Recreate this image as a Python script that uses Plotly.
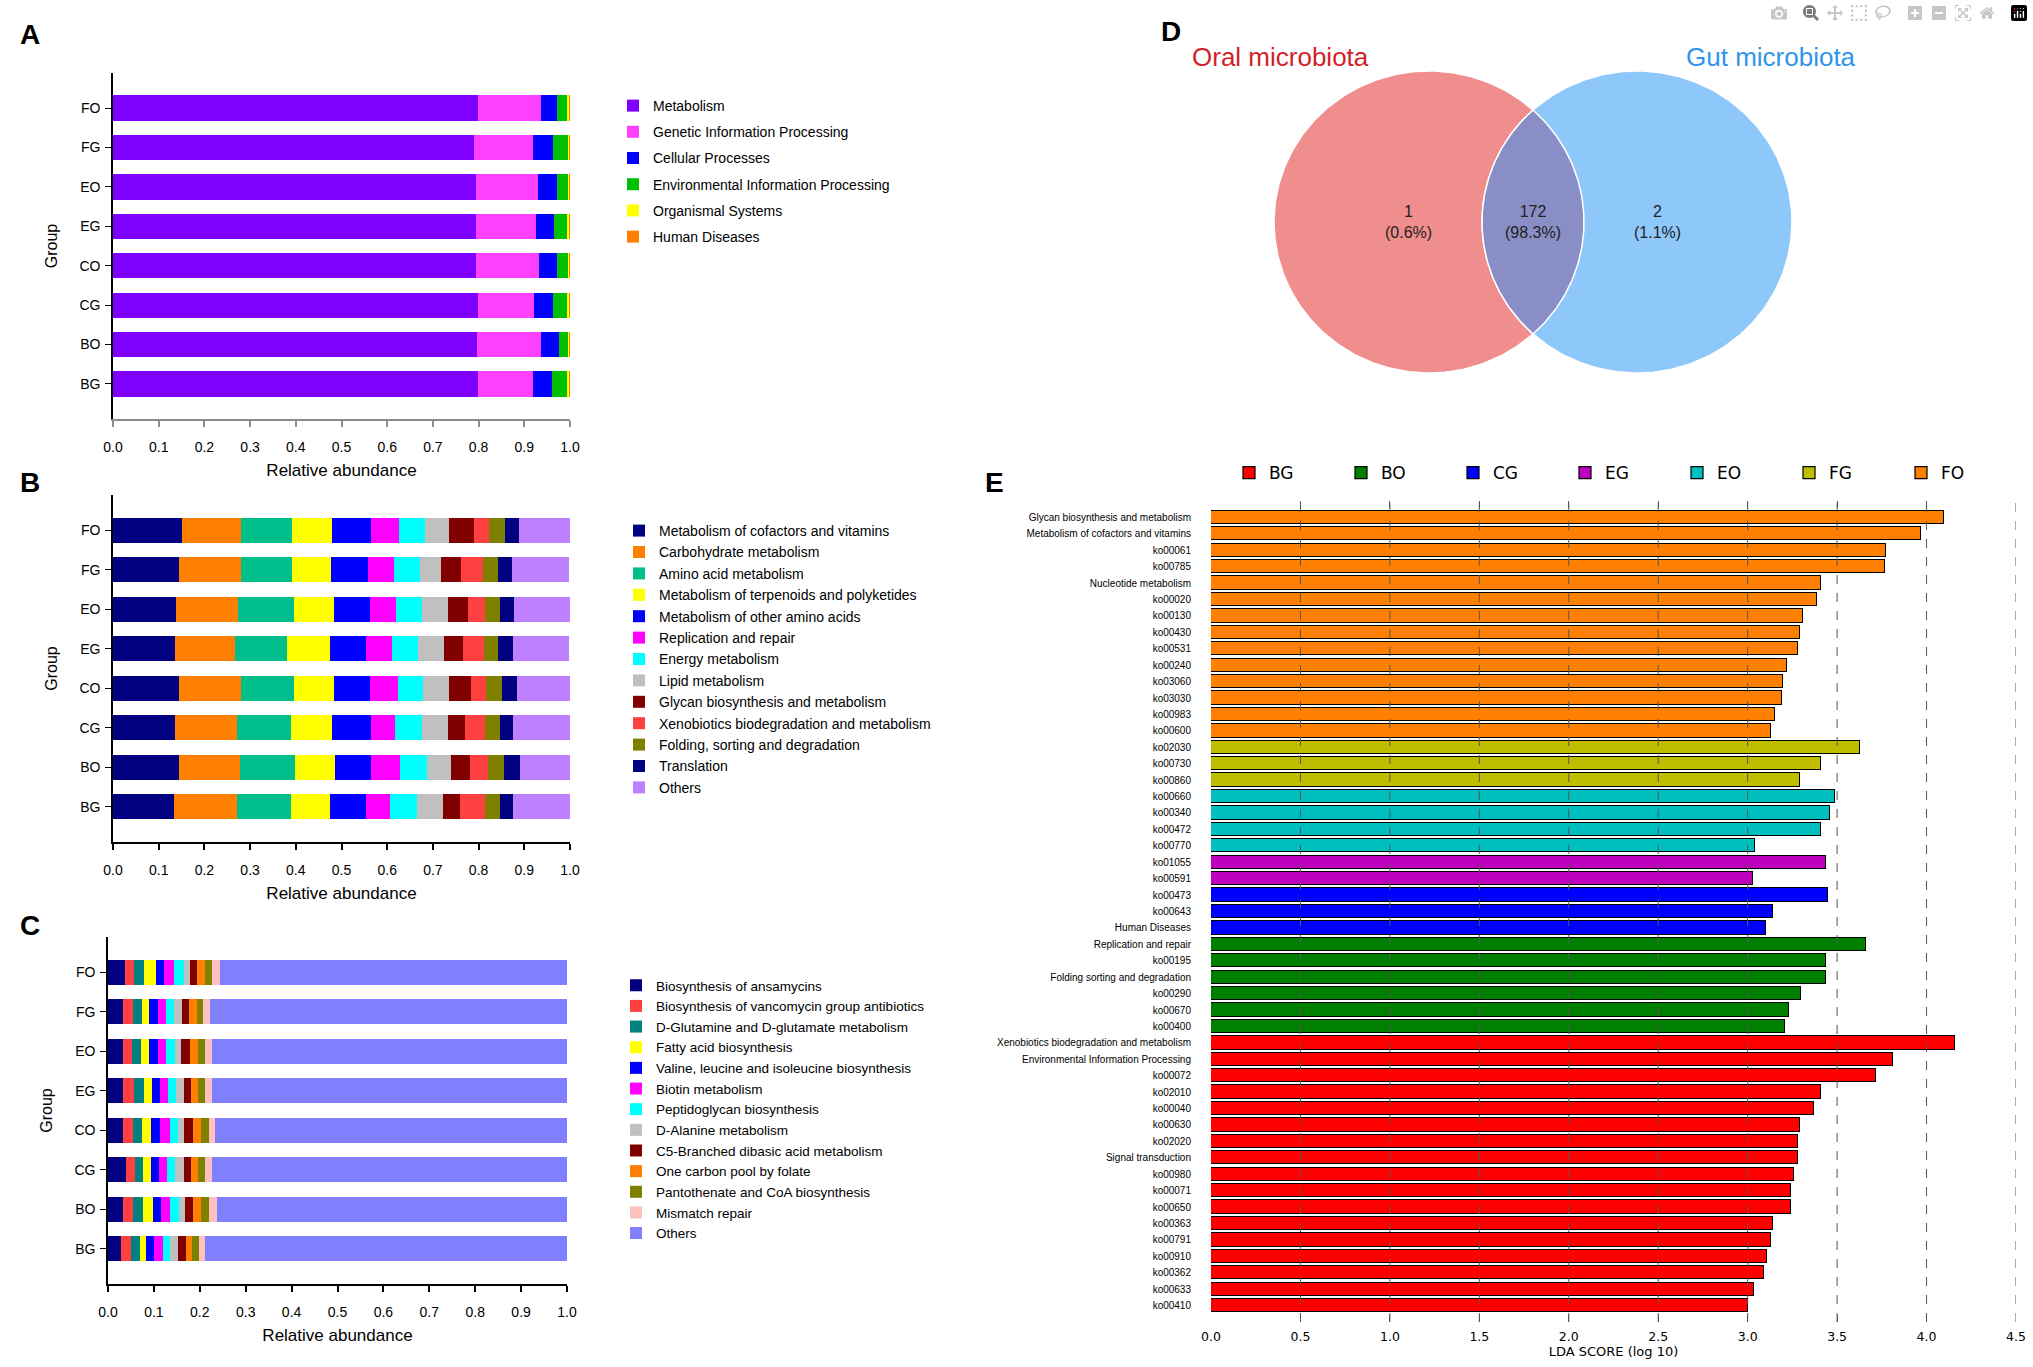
import numpy as np
import plotly.graph_objects as go

W, H = 2033, 1367
FONT = "Liberation Sans, Arial, sans-serif"
EFONT = "DejaVu Sans, sans-serif"

groups = ["BG", "BO", "CG", "CO", "EG", "EO", "FG", "FO"]

# ---------------- Panel A : KEGG level 1 ----------------
a_names = ["Metabolism", "Genetic Information Processing", "Cellular Processes",
           "Environmental Information Processing", "Organismal Systems", "Human Diseases"]
a_colors = ["#7F00FF", "#FF40FF", "#0000FF", "#00C000", "#FFFF00", "#FF8000"]
# values per pathway, in group order BG, BO, CG, CO, EG, EO, FG, FO
a_metabolism = [0.799, 0.797, 0.798, 0.795, 0.795, 0.795, 0.791, 0.799]
a_genetic    = [0.119, 0.140, 0.124, 0.138, 0.131, 0.134, 0.128, 0.137]
a_cellular   = [0.043, 0.038, 0.040, 0.039, 0.039, 0.043, 0.043, 0.036]
a_environ    = [0.033, 0.022, 0.032, 0.025, 0.029, 0.024, 0.034, 0.021]
a_organismal = [0.004, 0.002, 0.004, 0.002, 0.004, 0.003, 0.003, 0.005]
a_human      = [0.002, 0.001, 0.002, 0.001, 0.002, 0.001, 0.001, 0.002]
a_values = [a_metabolism, a_genetic, a_cellular, a_environ, a_organismal, a_human]

# ---------------- Panel B : KEGG level 2 ----------------
b_names = ["Metabolism of cofactors and vitamins", "Carbohydrate metabolism", "Amino acid metabolism",
           "Metabolism of terpenoids and polyketides", "Metabolism of other amino acids",
           "Replication and repair", "Energy metabolism", "Lipid metabolism",
           "Glycan biosynthesis and metabolism", "Xenobiotics biodegradation and metabolism",
           "Folding, sorting and degradation", "Translation", "Others"]
b_colors = ["#000080", "#FF8000", "#00BF8C", "#FFFF00", "#0000FF", "#FF00FF", "#00FFFF",
            "#C0C0C0", "#800000", "#FF4040", "#808000", "#000080", "#BF80FF"]
# values per group, in pathway order
b_BG = [0.134, 0.138, 0.118, 0.084, 0.079, 0.053, 0.060, 0.057, 0.036, 0.056, 0.031, 0.029, 0.125]
b_BO = [0.145, 0.132, 0.121, 0.088, 0.079, 0.063, 0.058, 0.054, 0.042, 0.038, 0.035, 0.035, 0.110]
b_CG = [0.135, 0.136, 0.118, 0.091, 0.084, 0.054, 0.058, 0.057, 0.038, 0.043, 0.032, 0.029, 0.124]
b_CO = [0.145, 0.134, 0.117, 0.088, 0.079, 0.060, 0.056, 0.056, 0.049, 0.032, 0.036, 0.032, 0.117]
b_EG = [0.136, 0.131, 0.114, 0.093, 0.079, 0.058, 0.057, 0.057, 0.040, 0.047, 0.031, 0.033, 0.121]
b_EO = [0.138, 0.136, 0.123, 0.086, 0.079, 0.057, 0.057, 0.058, 0.042, 0.038, 0.033, 0.031, 0.121]
b_FG = [0.145, 0.136, 0.111, 0.086, 0.079, 0.057, 0.057, 0.047, 0.043, 0.049, 0.032, 0.031, 0.125]
b_FO = [0.152, 0.127, 0.113, 0.088, 0.085, 0.061, 0.057, 0.052, 0.056, 0.031, 0.035, 0.032, 0.113]
b_groups = [b_BG, b_BO, b_CG, b_CO, b_EG, b_EO, b_FG, b_FO]

# ---------------- Panel C : KEGG level 3 ----------------
c_names = ["Biosynthesis of ansamycins", "Biosynthesis of vancomycin group antibiotics",
           "D-Glutamine and D-glutamate metabolism", "Fatty acid biosynthesis",
           "Valine, leucine and isoleucine biosynthesis", "Biotin metabolism",
           "Peptidoglycan biosynthesis", "D-Alanine metabolism", "C5-Branched dibasic acid metabolism",
           "One carbon pool by folate", "Pantothenate and CoA biosynthesis", "Mismatch repair", "Others"]
c_colors = ["#000080", "#FF4040", "#008080", "#FFFF00", "#0000FF", "#FF00FF", "#00FFFF",
            "#C0C0C0", "#800000", "#FF8000", "#808000", "#FFC0C0", "#8080FF"]
c_BG = [0.029, 0.022, 0.018, 0.014, 0.018, 0.018, 0.017, 0.017, 0.017, 0.014, 0.014, 0.014, 0.789]
c_BO = [0.032, 0.022, 0.022, 0.021, 0.019, 0.019, 0.019, 0.013, 0.019, 0.017, 0.017, 0.017, 0.762]
c_CG = [0.040, 0.019, 0.018, 0.017, 0.018, 0.017, 0.018, 0.018, 0.015, 0.017, 0.015, 0.014, 0.773]
c_CO = [0.032, 0.022, 0.021, 0.019, 0.019, 0.021, 0.019, 0.013, 0.019, 0.017, 0.017, 0.014, 0.766]
c_EG = [0.033, 0.024, 0.021, 0.017, 0.018, 0.017, 0.019, 0.017, 0.014, 0.017, 0.015, 0.014, 0.775]
c_EO = [0.032, 0.021, 0.019, 0.018, 0.019, 0.018, 0.018, 0.014, 0.019, 0.017, 0.017, 0.014, 0.773]
c_FG = [0.032, 0.022, 0.021, 0.015, 0.018, 0.018, 0.018, 0.018, 0.014, 0.017, 0.015, 0.015, 0.776]
c_FO = [0.036, 0.021, 0.022, 0.025, 0.019, 0.021, 0.021, 0.014, 0.015, 0.018, 0.015, 0.018, 0.754]
c_groups = [c_BG, c_BO, c_CG, c_CO, c_EG, c_EO, c_FG, c_FO]

x_ticks = [0.0, 0.1, 0.2, 0.3, 0.4, 0.5, 0.6, 0.7, 0.8, 0.9, 1.0]

# ---------------- Panel D : Venn ----------------
venn_sets = ["Oral microbiota", "Gut microbiota"]
venn_counts = [1, 172, 2]
venn_pct = ["0.6%", "98.3%", "1.1%"]

# ---------------- Panel E : LEfSe LDA ----------------
e_classes = ["BG", "BO", "CG", "EG", "EO", "FG", "FO"]
e_colors = ["#FF0000", "#008000", "#0000FF", "#BF00BF", "#00BFBF", "#BFBF00", "#FF8000"]
e_FO_names = ["Glycan biosynthesis and metabolism", "Metabolism of cofactors and vitamins", "ko00061",
              "ko00785", "Nucleotide metabolism", "ko00020", "ko00130", "ko00430", "ko00531",
              "ko00240", "ko03060", "ko03030", "ko00983", "ko00600"]
e_FO_lda = [4.10, 3.97, 3.775, 3.77, 3.41, 3.39, 3.31, 3.29, 3.28, 3.22, 3.20, 3.19, 3.15, 3.13]
e_FG_names = ["ko02030", "ko00730", "ko00860"]
e_FG_lda = [3.63, 3.41, 3.29]
e_EO_names = ["ko00660", "ko00340", "ko00472", "ko00770"]
e_EO_lda = [3.49, 3.46, 3.41, 3.04]
e_EG_names = ["ko01055", "ko00591"]
e_EG_lda = [3.44, 3.03]
e_CG_names = ["ko00473", "ko00643", "Human Diseases"]
e_CG_lda = [3.45, 3.14, 3.105]
e_BO_names = ["Replication and repair", "ko00195", "Folding sorting and degradation",
              "ko00290", "ko00670", "ko00400"]
e_BO_lda = [3.66, 3.44, 3.44, 3.30, 3.23, 3.21]
e_BG_names = ["Xenobiotics biodegradation and metabolism", "Environmental Information Processing",
              "ko00072", "ko02010", "ko00040", "ko00630", "ko02020", "Signal transduction",
              "ko00980", "ko00071", "ko00650", "ko00363", "ko00791", "ko00910", "ko00362",
              "ko00633", "ko00410"]
e_BG_lda = [4.16, 3.81, 3.72, 3.41, 3.37, 3.29, 3.28, 3.28, 3.26, 3.245, 3.245, 3.14, 3.13,
            3.11, 3.09, 3.035, 3.00]
e_ticks = [0.0, 0.5, 1.0, 1.5, 2.0, 2.5, 3.0, 3.5, 4.0, 4.5]

# ====================================================================
def pxx(x):
    return x / W


def pxy(y):
    return 1 - y / H


fig = go.Figure()

# Panel A bars
for name, col, vals in zip(a_names, a_colors, a_values):
    fig.add_trace(go.Bar(y=groups, x=vals, orientation="h", name=name, marker_color=col,
                         marker_line_width=0, width=0.64, xaxis="x", yaxis="y",
                         legend="legend", legendgroup="a" + name))

# Panel B bars
for i, (name, col) in enumerate(zip(b_names, b_colors)):
    fig.add_trace(go.Bar(y=groups, x=[g[i] for g in b_groups], orientation="h", name=name,
                         marker_color=col, marker_line_width=0, width=0.64, xaxis="x2", yaxis="y2",
                         legend="legend2", legendgroup="b" + name))

# Panel C bars
for i, (name, col) in enumerate(zip(c_names, c_colors)):
    fig.add_trace(go.Bar(y=groups, x=[g[i] for g in c_groups], orientation="h", name=name,
                         marker_color=col, marker_line_width=0, width=0.64, xaxis="x3", yaxis="y3",
                         legend="legend3", legendgroup="c" + name))

# Panel D Venn (pixel-like coordinate system on x4/y4)
cxL, cxR, cy, rx, ry = 1429.0, 1637.0, 222.0, 155.0, 151.0
t = np.linspace(0, 2 * np.pi, 361)
fig.add_trace(go.Scatter(x=cxL + rx * np.cos(t), y=cy + ry * np.sin(t), mode="lines", fill="toself",
                         fillcolor="#F08D8D", line=dict(color="white", width=1.5), xaxis="x4", yaxis="y4",
                         showlegend=False, hoverinfo="skip"))
fig.add_trace(go.Scatter(x=cxR + rx * np.cos(t), y=cy + ry * np.sin(t), mode="lines", fill="toself",
                         fillcolor="#8EC7FA", line=dict(color="white", width=1.5), xaxis="x4", yaxis="y4",
                         showlegend=False, hoverinfo="skip"))
xm = (cxL + cxR) / 2
t0 = np.arccos((xm - cxL) / rx)
tl = np.linspace(-t0, t0, 120)
tr = np.linspace(np.pi - t0, np.pi + t0, 120)
lens_x = np.concatenate([cxL + rx * np.cos(tl), cxR + rx * np.cos(tr)])
lens_y = np.concatenate([cy + ry * np.sin(tl), cy + ry * np.sin(tr)])
fig.add_trace(go.Scatter(x=lens_x, y=lens_y, mode="lines", fill="toself", fillcolor="#898EC6",
                         line=dict(color="white", width=1.5), xaxis="x4", yaxis="y4",
                         showlegend=False, hoverinfo="skip"))

# Panel E bars
e_all_names = []
for cls in ["FO", "FG", "EO", "EG", "CG", "BO", "BG"]:
    e_all_names += globals()["e_%s_names" % cls]
for cls, col in zip(e_classes, e_colors):
    fig.add_trace(go.Bar(y=globals()["e_%s_names" % cls], x=globals()["e_%s_lda" % cls],
                         orientation="h", name=cls, marker=dict(color=col, line=dict(color="black", width=1.2)),
                         width=0.81, xaxis="x5", yaxis="y5", legend="legend4"))

# ---------------- Axes ----------------
def stack_axes(xd, yd, xline):
    xa = dict(domain=xd, range=[0, 1.0], tickvals=x_ticks, ticktext=["%.1f" % v for v in x_ticks],
              showgrid=False, zeroline=False, showline=True, linecolor=xline, linewidth=2,
              ticks="outside", ticklen=6, tickcolor=xline, tickwidth=1.5,
              tickfont=dict(size=14, color="black"), ticklabelstandoff=8,
              title=dict(text="Relative abundance", font=dict(size=17), standoff=10))
    ya = dict(domain=yd, type="category", categoryorder="array", categoryarray=groups,
              range=[-0.89, 7.89], showgrid=False, zeroline=False, showline=True, linecolor="black",
              linewidth=1.5, ticks="outside", ticklen=6, tickcolor="black", tickwidth=1.2,
              tickfont=dict(size=14, color="black"), ticklabelstandoff=2,
              title=dict(text="Group", font=dict(size=16), standoff=18))
    return xa, ya


xa1, ya1 = stack_axes([pxx(113), pxx(570)], [pxy(419), pxy(73)], "#8C8C8C")
xa2, ya2 = stack_axes([pxx(113), pxx(570)], [pxy(842), pxy(495)], "black")
xa3, ya3 = stack_axes([pxx(108), pxx(567)], [pxy(1284), pxy(937)], "black")
xa1["anchor"] = "y"; ya1["anchor"] = "x"
xa2["anchor"] = "y2"; ya2["anchor"] = "x2"
xa3["anchor"] = "y3"; ya3["anchor"] = "x3"

layout = dict(
    width=W, height=H, margin=dict(l=0, r=0, t=0, b=0, autoexpand=False),
    paper_bgcolor="white", plot_bgcolor="white",
    font=dict(family=FONT, color="black"),
    barmode="stack", bargap=0,
    xaxis=xa1, yaxis=ya1, xaxis2=xa2, yaxis2=ya2, xaxis3=xa3, yaxis3=ya3,
    xaxis4=dict(domain=[pxx(1140), 1], range=[1140, W], visible=False, anchor="y4"),
    yaxis4=dict(domain=[pxy(420), 1], range=[420, 0], visible=False, anchor="x4"),
    xaxis5=dict(domain=[pxx(1211), pxx(2016)], range=[0, 4.5], tickvals=e_ticks,
                ticktext=["%.1f" % v for v in e_ticks], showgrid=False, zeroline=False, showline=False,
                ticks="inside", ticklen=7, tickcolor="#555", tickwidth=1, mirror="ticks",
                tickfont=dict(family=EFONT, size=12.5), ticklabelstandoff=5, anchor="y5",
                title=dict(text="LDA SCORE (log 10)", font=dict(family=EFONT, size=13), standoff=4)),
    yaxis5=dict(domain=[pxy(1322), pxy(501)], type="category", categoryorder="array",
                categoryarray=e_all_names, range=[49, -1], showgrid=False, zeroline=False,
                showline=False, ticks="", tickfont=dict(family=FONT, size=10), ticklabelstandoff=19,
                anchor="x5"),
    legend=dict(x=pxx(613), y=pxy(90), xanchor="left", yanchor="top", font=dict(size=14),
                traceorder="grouped", tracegroupgap=5, bgcolor="rgba(0,0,0,0)"),
    legend2=dict(x=pxx(619), y=pxy(515), xanchor="left", yanchor="top", font=dict(size=14),
                 traceorder="grouped", tracegroupgap=0.2, bgcolor="rgba(0,0,0,0)"),
    legend3=dict(x=pxx(616), y=pxy(970), xanchor="left", yanchor="top", font=dict(size=13.5),
                 traceorder="grouped", tracegroupgap=0.1, bgcolor="rgba(0,0,0,0)"),
    legend4=dict(x=pxx(1229), y=pxy(455), xanchor="left", yanchor="top", orientation="h",
                 entrywidth=67, entrywidthmode="pixels", font=dict(family=EFONT, size=17),
                 traceorder="normal", bgcolor="rgba(0,0,0,0)"),
)
fig.update_layout(**layout)

# Dashed reference lines at the E ticks, above the bars
for v in e_ticks[1:]:
    fig.add_shape(type="line", xref="x5", yref="y5 domain", x0=v, x1=v, y0=0, y1=1,
                  line=dict(color="#555555", width=1, dash="dash"), layer="above")

# Venn texts
fig.add_annotation(x=1280, y=57, xref="x4", yref="y4", text=venn_sets[0], showarrow=False,
                   font=dict(size=26, color="#D21F2A"))
fig.add_annotation(x=1771, y=57, xref="x4", yref="y4", text=venn_sets[1], showarrow=False,
                   font=dict(size=26, color="#2F95EA"))
venn_x = [1408, 1533, 1657]
for xv, n, p in zip(venn_x, venn_counts, venn_pct):
    fig.add_annotation(x=xv, y=222, xref="x4", yref="y4", text="%d<br>(%s)" % (n, p), showarrow=False,
                       font=dict(size=16, color="#222"), align="center")

# Panel letters
for letter, lx, ly in [("A", 18, 35), ("B", 18, 482), ("C", 18, 925), ("D", 1159, 32), ("E", 983, 482)]:
    fig.add_annotation(x=pxx(lx), y=pxy(ly), xref="paper", yref="paper", text="<b>%s</b>" % letter,
                       showarrow=False, xanchor="left", yanchor="middle",
                       font=dict(size=28, color="black", family=FONT))

fig.write_html("out.html", post_script="document.body.style.margin='0';")
